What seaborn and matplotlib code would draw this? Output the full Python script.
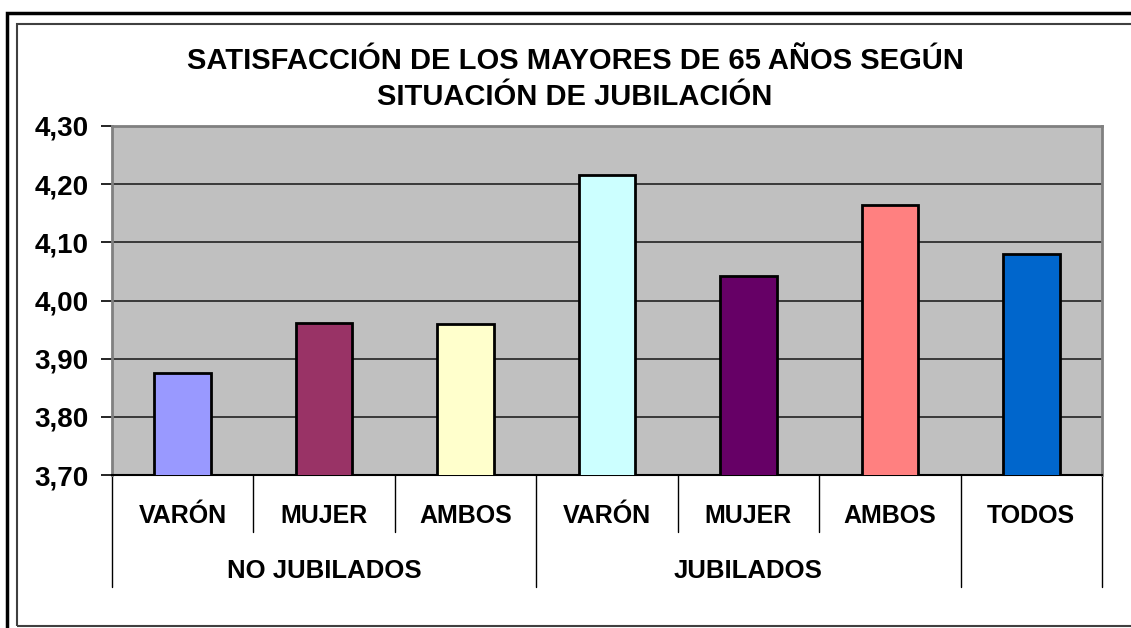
import matplotlib
matplotlib.use("Agg")
import matplotlib.pyplot as plt
import matplotlib.patches as mpatches
import matplotlib.lines as mlines
from matplotlib.transforms import blended_transform_factory
import seaborn as sns
import pandas as pd

# ---- data ----
groups = ["NO JUBILADOS", "NO JUBILADOS", "NO JUBILADOS",
          "JUBILADOS", "JUBILADOS", "JUBILADOS", "TODOS"]
categories = ["VARÓN", "MUJER", "AMBOS", "VARÓN", "MUJER", "AMBOS", "TODOS"]
values = [3.876, 3.962, 3.959, 4.216, 4.042, 4.165, 4.080]
colors = ["#9999FF", "#993366", "#FFFFCC", "#CCFFFF", "#660066", "#FF8080", "#0066CC"]
group_labels = ["NO JUBILADOS", "JUBILADOS"]
yticks = [3.70, 3.80, 3.90, 4.00, 4.10, 4.20, 4.30]
title = "SATISFACCIÓN DE LOS MAYORES DE 65 AÑOS SEGÚN\nSITUACIÓN DE JUBILACIÓN"

sns.set_theme(style="white")
plt.rcParams["font.family"] = ["Liberation Sans", "DejaVu Sans"]
plt.rcParams["text.color"] = "black"
plt.rcParams["ytick.color"] = "black"
plt.rcParams["ytick.labelcolor"] = "black"

keys = [f"{g}|{c}|{i}" for i, (g, c) in enumerate(zip(groups, categories))]
df = pd.DataFrame({"key": keys, "value": values})

fig = plt.figure(figsize=(11.31, 6.28), dpi=100)
fig.patch.set_facecolor("white")
ax = fig.add_axes([112 / 1131, (628 - 475) / 628, 990 / 1131, (475 - 126) / 628])

sns.barplot(data=df, x="key", y="value", hue="key", palette=colors,
            order=keys, hue_order=keys, legend=False, width=0.4, saturation=1,
            edgecolor="black", linewidth=2.0, ax=ax, zorder=3)

ax.set_facecolor("#C0C0C0")
ax.set_ylim(3.70, 4.30)
ax.set_xlim(-0.5, len(keys) - 0.5)
ax.set_yticks(yticks)
ax.set_yticklabels([f"{v:.2f}".replace(".", ",") for v in yticks],
                   fontsize=20, fontweight="bold", color="black")
ax.yaxis.grid(True, color="#222222", linewidth=1.2, zorder=1)
ax.set_axisbelow(True)
ax.tick_params(axis="y", which="both", left=True, length=8, width=1.2,
               color="black", pad=9)
ax.set_xticks([])
ax.set_xlabel("")
ax.set_ylabel("")
for s in ["top", "right", "left"]:
    ax.spines[s].set_color("#808080")
    ax.spines[s].set_linewidth(2)
ax.spines["bottom"].set_color("black")
ax.spines["bottom"].set_linewidth(1.5)

# category labels and separators
trans = blended_transform_factory(ax.transData, ax.transAxes)
for i, c in enumerate(categories):
    ax.text(i, -0.118, c, transform=trans, ha="center", va="center",
            fontsize=18, fontweight="bold", color="black", clip_on=False)
ax.text(1, -0.275, group_labels[0], transform=trans, ha="center", va="center",
        fontsize=18.5, fontweight="bold", color="black", clip_on=False)
ax.text(4, -0.275, group_labels[1], transform=trans, ha="center", va="center",
        fontsize=18.5, fontweight="bold", color="black", clip_on=False)

short_b = [0.5, 1.5, 3.5, 4.5]
long_b = [-0.5, 2.5, 5.5, 6.5]
for b in short_b:
    ax.add_line(mlines.Line2D([b, b], [0, -0.163], transform=trans, color="black",
                              linewidth=1.0, clip_on=False))
for b in long_b:
    ax.add_line(mlines.Line2D([b, b], [0, -0.32], transform=trans, color="black",
                              linewidth=1.0, clip_on=False))

fig.text(575 / 1131, 1 - 79 / 628, title, ha="center", va="center",
         fontsize=21, fontweight="bold", linespacing=1.32, color="black")

# borders
fig.add_artist(mpatches.Rectangle((7 / 1131, -0.05), 1.2, (628 - 13) / 628 + 0.05,
                                  transform=fig.transFigure, fill=False,
                                  edgecolor="black", linewidth=2.5))
fig.add_artist(mpatches.Rectangle((17 / 1131, 2 / 628), 1.2, (628 - 24 - 2) / 628,
                                  transform=fig.transFigure, fill=False,
                                  edgecolor="#404040", linewidth=1.5))

fig.savefig("out.png", dpi=100, facecolor="white")
